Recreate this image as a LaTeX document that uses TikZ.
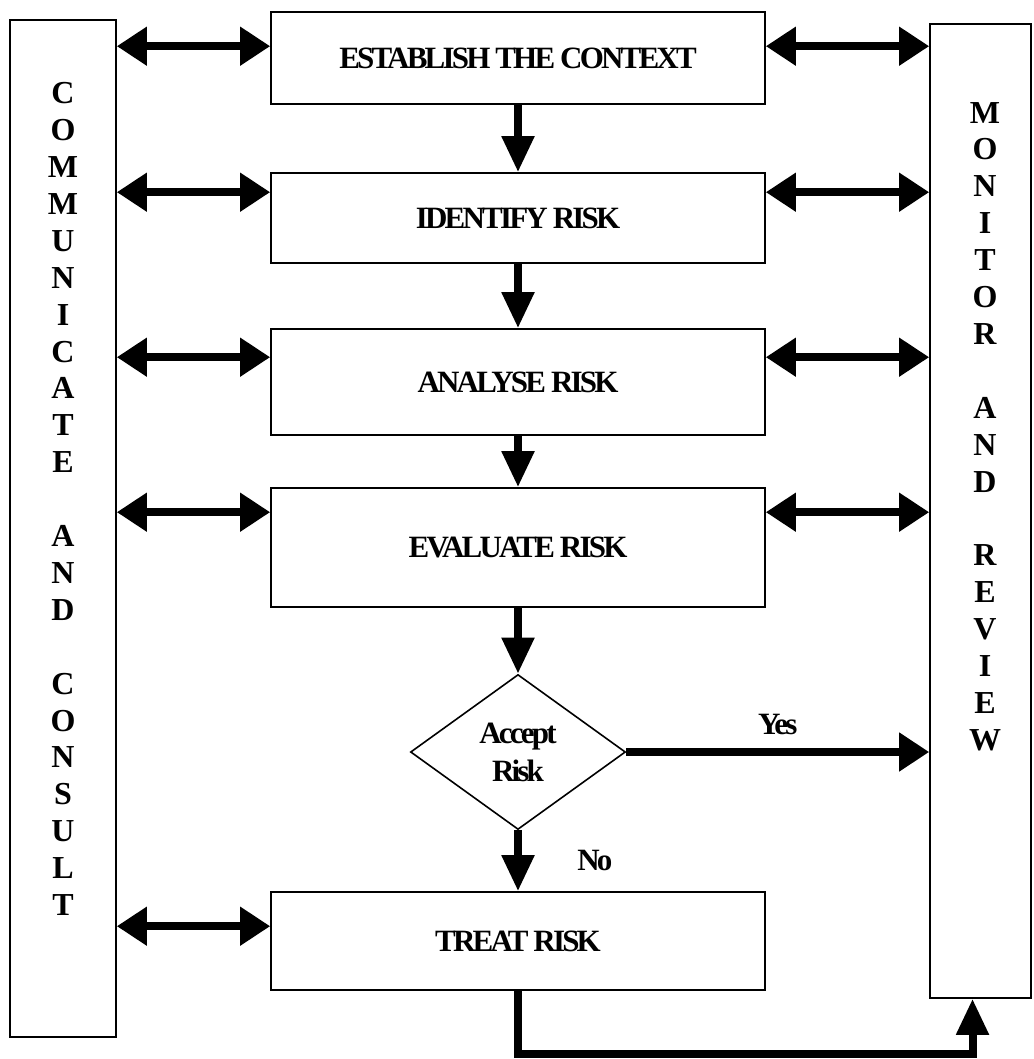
\documentclass[tikz,border=0pt]{standalone}
\usepackage{fontspec}
\setmainfont{Liberation Serif}
\usetikzlibrary{arrows.meta,shapes.geometric,positioning}

\newcommand{\stagefont}{\fontsize{31}{38}\selectfont\bfseries\addfontfeatures{LetterSpace=-9}}
\newcommand{\sidefont}{\fontsize{32}{36.9}\selectfont\bfseries}

\tikzset{
  stage/.style={draw, line width=1.6pt, minimum width=494pt, inner sep=0pt, font=\stagefont},
  sidebox/.style={draw, line width=1.6pt, inner sep=0pt},
  sidetext/.style={align=center, inner sep=0pt, font=\sidefont},
  twoway/.style={line width=8.5pt, {Triangle[length=30pt,width=37pt]}-{Triangle[length=30pt,width=37pt]}},
  flow/.style={line width=8pt, -{Triangle[length=36pt,width=31pt]}},
  sideflow/.style={line width=8pt, -{Triangle[length=30pt,width=37pt]}}
}

\begin{document}
\begin{tikzpicture}[x=1pt, y=-1pt]
  \useasboundingbox (0,0) rectangle (1033,1059);

  % the two side columns
  \node[sidebox, minimum width=106pt, minimum height=1017pt] (comm) at (63,528.5) {};
  \node[sidetext] (commtxt) at (63,499)
    {C\\O\\M\\M\\U\\N\\I\\C\\A\\T\\E\\[36.9pt]A\\N\\D\\[36.9pt]C\\O\\N\\S\\U\\L\\T};
  \node[sidebox, minimum width=101pt, minimum height=974pt] (monitor) at (980.5,511) {};
  \node[sidetext] (monitortxt) at (985,426.5)
    {M\\O\\N\\I\\T\\O\\R\\[36.9pt]A\\N\\D\\[36.9pt]R\\E\\V\\I\\E\\W};

  % the process
  \node[stage, minimum height=92pt] (ctx) at (518,58) {ESTABLISH THE CONTEXT};
  \node[stage, minimum height=90pt] (ident) at (518,218) {IDENTIFY RISK};
  \node[stage, minimum height=106pt] (anal) at (518,382) {ANALYSE RISK};
  \node[stage, minimum height=119pt] (eval) at (518,547.5) {EVALUATE RISK};
  \node[diamond, draw, line width=1.6pt, minimum width=215pt, minimum height=155pt,
        aspect=1.39, inner sep=0pt, align=center, font=\stagefont] (accept) at (518,752) {Accept\\Risk};
  \node[stage, minimum height=98pt] (treat) at (518,941) {TREAT RISK};

  \draw[flow] (ctx) -- (ident);
  \draw[flow] (ident) -- (anal);
  \draw[flow] (anal) -- (eval);
  \draw[flow] (eval) -- (accept);
  \draw[flow] (accept) -- node[right=52pt] (no) {\stagefont No} (treat);
  \draw[sideflow] (accept.east) -- node[above=10pt] (yes) {\stagefont Yes} (monitor.west |- accept.east);
  \draw[flow, line join=miter] (treat.south) -- ++(0,63) -| ([xshift=-8pt]monitor.south);

  % links to the side columns
  \coordinate (ctxL) at ([yshift=-35pt]ctx.north west);
  \coordinate (ctxR) at ([yshift=-35pt]ctx.north east);
  \coordinate (identL) at ([yshift=-20pt]ident.north west);
  \coordinate (identR) at ([yshift=-20pt]ident.north east);
  \coordinate (analL) at ([yshift=-29pt]anal.north west);
  \coordinate (analR) at ([yshift=-29pt]anal.north east);
  \coordinate (evalL) at ([yshift=-25pt]eval.north west);
  \coordinate (evalR) at ([yshift=-25pt]eval.north east);
  \coordinate (treatL) at ([yshift=-35pt]treat.north west);

  \draw[twoway] (comm.east |- ctxL) -- (ctxL);
  \draw[twoway] (ctxR) -- (monitor.west |- ctxR);
  \draw[twoway] (comm.east |- identL) -- (identL);
  \draw[twoway] (identR) -- (monitor.west |- identR);
  \draw[twoway] (comm.east |- analL) -- (analL);
  \draw[twoway] (analR) -- (monitor.west |- analR);
  \draw[twoway] (comm.east |- evalL) -- (evalL);
  \draw[twoway] (evalR) -- (monitor.west |- evalR);
  \draw[twoway] (comm.east |- treatL) -- (treatL);
\end{tikzpicture}
\end{document}
